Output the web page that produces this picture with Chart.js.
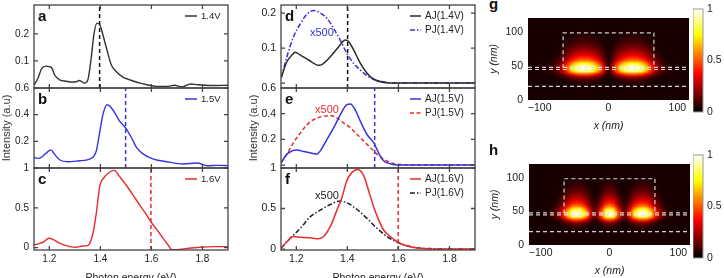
<!DOCTYPE html>
<html>
<head>
<meta charset="utf-8">
<script src="https://cdn.jsdelivr.net/npm/chart.js@4.4.0/dist/chart.umd.min.js"></script>
<style>
	body { margin: 0; width: 724px; height: 278px; overflow: hidden; position: relative; background: #fff; }
	canvas { position: absolute; }
	.tag { position: absolute; font: bold 15px "Liberation Sans", Arial, sans-serif; line-height: 15px; color: #111; }
</style>
</head>
<body>
<canvas id="pa"></canvas><canvas id="pb"></canvas><canvas id="pc"></canvas>
<canvas id="pd"></canvas><canvas id="pe"></canvas><canvas id="pf"></canvas>
<canvas id="pg"></canvas><canvas id="ph"></canvas>
<canvas id="cbg"></canvas><canvas id="cbh"></canvas>
<div class="tag" style="left:489px;top:-4px">g</div>
<div class="tag" style="left:489px;top:142px">h</div>
<script>
// ---- spectra, left column (measured) ----
const energyTicks = [1.2, 1.4, 1.6, 1.8];

const xA = [1.14, 1.155, 1.17, 1.187, 1.2, 1.21, 1.22, 1.24, 1.266, 1.29, 1.305, 1.318, 1.338, 1.351, 1.364, 1.375, 1.387, 1.397, 1.409, 1.424, 1.443, 1.463, 1.488, 1.51, 1.528, 1.555, 1.582, 1.62, 1.66, 1.69, 1.72, 1.753, 1.78, 1.81, 1.85, 1.9];
const yA = [0.011, 0.035, 0.072, 0.081, 0.079, 0.074, 0.05, 0.03, 0.025, 0.022, 0.023, 0.028, 0.018, 0.03, 0.11, 0.2, 0.24, 0.235, 0.2, 0.147, 0.085, 0.06, 0.04, 0.032, 0.026, 0.018, 0.012, 0.006, 0.006, 0.01, 0.004, 0.015, 0.012, 0.01, 0.009, 0.01];

const xB = [1.14, 1.16, 1.175, 1.187, 1.207, 1.22, 1.24, 1.272, 1.318, 1.358, 1.384, 1.397, 1.41, 1.426, 1.437, 1.457, 1.476, 1.499, 1.522, 1.542, 1.568, 1.608, 1.66, 1.726, 1.779, 1.818, 1.86, 1.9];
const yB = [0.079, 0.072, 0.09, 0.111, 0.136, 0.104, 0.062, 0.047, 0.054, 0.067, 0.128, 0.264, 0.4, 0.474, 0.464, 0.412, 0.35, 0.301, 0.227, 0.153, 0.104, 0.067, 0.047, 0.03, 0.037, 0.017, 0.02, 0.017];

const xC = [1.14, 1.16, 1.18, 1.197, 1.21, 1.24, 1.28, 1.305, 1.33, 1.351, 1.371, 1.384, 1.397, 1.417, 1.437, 1.454, 1.476, 1.502, 1.528, 1.555, 1.581, 1.598, 1.62, 1.646, 1.666, 1.68, 1.7, 1.74, 1.79, 1.845, 1.9];
const yC = [0.034, 0.05, 0.075, 0.117, 0.11, 0.055, 0.013, 0.004, 0.02, 0.025, 0.18, 0.43, 0.76, 0.89, 0.95, 0.97, 0.89, 0.78, 0.66, 0.53, 0.41, 0.325, 0.23, 0.117, 0.03, -0.025, -0.025, -0.01, 0.005, 0.012, 0.012];

// ---- spectra, middle column (simulated, AJ and PJ x500) ----
const xAJ14 = [1.141, 1.163, 1.183, 1.196, 1.216, 1.248, 1.287, 1.3, 1.333, 1.366, 1.392, 1.405, 1.425, 1.451, 1.477, 1.503, 1.542, 1.6, 1.7, 1.9];
const yAJ14 = [0.016, 0.061, 0.08, 0.088, 0.08, 0.066, 0.051, 0.053, 0.075, 0.104, 0.123, 0.119, 0.094, 0.056, 0.028, 0.011, 0.002, 0, 0, 0];
const xPJ14 = [1.141, 1.163, 1.189, 1.216, 1.242, 1.268, 1.294, 1.32, 1.346, 1.372, 1.398, 1.425, 1.451, 1.477, 1.503, 1.542, 1.58, 1.7, 1.9];
const yPJ14 = [0.016, 0.075, 0.132, 0.17, 0.197, 0.207, 0.2, 0.185, 0.156, 0.123, 0.085, 0.056, 0.037, 0.021, 0.011, 0.004, 0, 0, 0];

const xAJ15 = [1.141, 1.163, 1.183, 1.202, 1.229, 1.261, 1.281, 1.294, 1.32, 1.346, 1.372, 1.398, 1.412, 1.431, 1.451, 1.477, 1.503, 1.523, 1.542, 1.568, 1.6, 1.7, 1.9];
const yAJ15 = [0.02, 0.085, 0.11, 0.118, 0.105, 0.092, 0.085, 0.11, 0.2, 0.29, 0.39, 0.47, 0.475, 0.43, 0.34, 0.238, 0.175, 0.092, 0.033, 0.01, 0, 0, 0];
const xPJ15 = [1.141, 1.163, 1.189, 1.216, 1.242, 1.268, 1.294, 1.333, 1.359, 1.385, 1.412, 1.438, 1.464, 1.49, 1.516, 1.542, 1.568, 1.6, 1.7, 1.9];
const yPJ15 = [0.02, 0.085, 0.175, 0.25, 0.315, 0.354, 0.375, 0.385, 0.367, 0.328, 0.29, 0.238, 0.187, 0.136, 0.085, 0.046, 0.02, 0.005, 0, 0];

const xAJ16 = [1.141, 1.163, 1.189, 1.216, 1.255, 1.287, 1.307, 1.333, 1.359, 1.379, 1.398, 1.418, 1.44, 1.464, 1.483, 1.503, 1.523, 1.542, 1.568, 1.594, 1.62, 1.66, 1.71, 1.8, 1.9];
const yAJ16 = [0.012, 0.09, 0.154, 0.146, 0.138, 0.126, 0.154, 0.276, 0.48, 0.64, 0.845, 0.946, 0.98, 0.906, 0.723, 0.52, 0.357, 0.235, 0.154, 0.093, 0.053, 0.02, 0.004, 0, 0];
const xPJ16 = [1.141, 1.176, 1.216, 1.255, 1.294, 1.333, 1.372, 1.398, 1.438, 1.477, 1.516, 1.555, 1.594, 1.633, 1.672, 1.725, 1.8, 1.9];
const yPJ16 = [0.012, 0.134, 0.256, 0.4, 0.48, 0.55, 0.593, 0.57, 0.488, 0.378, 0.256, 0.154, 0.085, 0.04, 0.016, 0.005, 0, 0];

// ---- near-field maps (column and row profiles) ----
const mapX = [-114, -108, -102, -96, -90, -84, -78, -72, -66, -60, -54, -48, -42, -36, -30, -24, -18, -12, -6, 0, 6, 12, 18, 24, 30, 36, 42, 48, 54, 60, 66, 72, 78, 84, 90, 96, 102, 108, 114];
const mapY = [2, 6, 10, 14, 18, 22, 26, 30, 34, 38, 42, 46, 50, 54, 58, 62, 66, 70, 74, 78, 82, 86, 90, 94, 98, 102, 106, 110, 114, 118];
const colG = [0.03, 0.03, 0.04, 0.05, 0.06, 0.08, 0.12, 0.2, 0.34, 0.52, 0.72, 0.88, 0.97, 1.0, 0.98, 0.9, 0.75, 0.55, 0.3, 0.06, 0.3, 0.55, 0.75, 0.9, 0.98, 1.0, 0.97, 0.88, 0.72, 0.52, 0.34, 0.2, 0.12, 0.08, 0.06, 0.05, 0.04, 0.03, 0.03];
const colH = [0.03, 0.03, 0.03, 0.04, 0.05, 0.08, 0.14, 0.26, 0.46, 0.72, 0.94, 1.0, 0.94, 0.75, 0.45, 0.18, 0.22, 0.52, 0.88, 1.0, 0.88, 0.52, 0.22, 0.18, 0.45, 0.75, 0.94, 1.0, 0.94, 0.72, 0.46, 0.26, 0.14, 0.08, 0.05, 0.04, 0.03, 0.03, 0.03];
const rowProfile = [0.04, 0.04, 0.04, 0.04, 0.04, 0.05, 0.07, 0.12, 0.24, 0.5, 0.85, 1.0, 0.95, 0.78, 0.58, 0.45, 0.36, 0.29, 0.23, 0.18, 0.14, 0.11, 0.09, 0.07, 0.05, 0.04, 0.04, 0.04, 0.04, 0.04];
const boxX = [-66, -66, 66, 66];
const boxY = [47, 99, 99, 47];
const layerY = [48, 45, 20];
const nmTicks = [-100, 0, 100];
const heightTicks = [0, 50, 100];
const cbarTicks = [0, 0.5, 1];

const FONT = '"Liberation Sans", Arial, Helvetica, sans-serif';

function hot(v) {
	v = Math.max(0.035, Math.min(1, v));
	const r = Math.min(1, v / 0.375);
	const g = Math.min(1, Math.max(0, (v - 0.375) / 0.375));
	const b = Math.max(0, (v - 0.75) / 0.25);
	return [Math.round(r * 255), Math.round(g * 255), Math.round(b * 255)];
}

function line(xs, ys, color, dash, width, straight) {
	return {
		data: xs.map((x, i) => ({ x: x, y: ys[i] })),
		borderColor: color,
		borderWidth: width || 1.4,
		borderDash: dash || [],
		pointRadius: 0,
		tension: 0,
		cubicInterpolationMode: straight ? 'default' : 'monotone',
		fill: false,
	};
}

function vline(x, lo, hi, color) {
	return line([x, x], [lo, hi], color, [4, 3], 1.5, true);
}

const deco = {
	id: 'deco',
	afterDatasetsDraw(chart, args, o) {
		const { ctx, chartArea: a, scales } = chart;
		ctx.save();
		if (o.frame) {
			ctx.strokeStyle = '#444';
			ctx.lineWidth = 1.3;
			ctx.setLineDash([]);
			ctx.strokeRect(a.left, a.top, a.right - a.left, a.bottom - a.top);
			ctx.beginPath();
			o.xTicks.forEach(v => {
				const px = scales.x.getPixelForValue(v);
				ctx.moveTo(px, a.bottom); ctx.lineTo(px, a.bottom - 4);
				ctx.moveTo(px, a.top); ctx.lineTo(px, a.top + 4);
			});
			o.yTicks.forEach(v => {
				const py = scales.y.getPixelForValue(v);
				ctx.moveTo(a.left, py); ctx.lineTo(a.left + 4, py);
				ctx.moveTo(a.right, py); ctx.lineTo(a.right - 4, py);
			});
			ctx.stroke();
		}
		if (o.letter) {
			ctx.fillStyle = '#111';
			ctx.font = 'bold 15px ' + FONT;
			ctx.textBaseline = 'alphabetic';
			ctx.fillText(o.letter, a.left + 4, a.top + 16);
		}
		(o.legend || []).forEach((it, k) => {
			const ds = chart.data.datasets[it.ds];
			const y = a.top + 11 + k * 14;
			const x0 = a.right - o.legendX;
			ctx.strokeStyle = ds.borderColor;
			ctx.lineWidth = 1.5;
			ctx.setLineDash(ds.borderDash || []);
			ctx.beginPath(); ctx.moveTo(x0, y); ctx.lineTo(x0 + o.sampleW, y); ctx.stroke();
			ctx.setLineDash([]);
			ctx.fillStyle = '#222';
			ctx.font = o.legendFont + 'px ' + FONT;
			ctx.textBaseline = 'middle';
			ctx.textAlign = 'left';
			ctx.fillText(it.text, x0 + o.sampleW + 4, y);
		});
		(o.notes || []).forEach(n => {
			ctx.fillStyle = n.color;
			ctx.font = '11px ' + FONT;
			ctx.textAlign = 'center';
			ctx.textBaseline = 'middle';
			ctx.fillText(n.text, scales.x.getPixelForValue(n.x), scales.y.getPixelForValue(n.y));
		});
		ctx.restore();
	}
};

const heat = {
	id: 'heat',
	beforeDatasetsDraw(chart, args, o) {
		if (!o.col) return;
		const { ctx, chartArea: a, scales } = chart;
		const off = document.createElement('canvas');
		off.width = o.xs.length; off.height = o.ys.length;
		const octx = off.getContext('2d');
		const img = octx.createImageData(off.width, off.height);
		o.ys.forEach((yv, j) => {
			o.xs.forEach((xv, i) => {
				const c = hot(o.col[i] * o.row[j]);
				const k = ((off.height - 1 - j) * off.width + i) * 4;
				img.data[k] = c[0]; img.data[k + 1] = c[1]; img.data[k + 2] = c[2]; img.data[k + 3] = 255;
			});
		});
		octx.putImageData(img, 0, 0);
		const dx = (o.xs[1] - o.xs[0]) / 2, dy = (o.ys[1] - o.ys[0]) / 2;
		const x0 = scales.x.getPixelForValue(o.xs[0] - dx);
		const x1 = scales.x.getPixelForValue(o.xs[o.xs.length - 1] + dx);
		const y0 = scales.y.getPixelForValue(o.ys[o.ys.length - 1] + dy);
		const y1 = scales.y.getPixelForValue(o.ys[0] - dy);
		ctx.save();
		ctx.beginPath(); ctx.rect(a.left, a.top, a.right - a.left, a.bottom - a.top); ctx.clip();
		ctx.fillStyle = '#0d0000';
		ctx.fillRect(a.left, a.top, a.right - a.left, a.bottom - a.top);
		ctx.imageSmoothingEnabled = true;
		ctx.drawImage(off, x0, y0, x1 - x0, y1 - y0);
		ctx.restore();
	}
};

const cbar = {
	id: 'cbar',
	beforeDatasetsDraw(chart, args, o) {
		if (!o.on) return;
		const { ctx, chartArea: a, scales } = chart;
		const g = ctx.createLinearGradient(0, scales.y.getPixelForValue(0), 0, scales.y.getPixelForValue(1));
		g.addColorStop(0, '#000'); g.addColorStop(0.375, '#f00'); g.addColorStop(0.75, '#ff0'); g.addColorStop(1, '#fff');
		ctx.save();
		ctx.fillStyle = g;
		ctx.fillRect(a.left, a.top, a.right - a.left, a.bottom - a.top);
		ctx.strokeStyle = '#999'; ctx.lineWidth = 1;
		ctx.strokeRect(a.left, a.top, a.right - a.left, a.bottom - a.top);
		ctx.restore();
	}
};

Chart.register(deco, heat, cbar);

function place(id, box, m) {
	const cv = document.getElementById(id);
	cv.width = m.l + box.w + m.r;
	cv.height = m.t + box.h + m.b;
	cv.style.left = (box.l - m.l) + 'px';
	cv.style.top = (box.t - m.t) + 'px';
	return cv;
}

function fixTicks(list) {
	return s => { s.ticks = list.map(v => ({ value: v })); };
}

function spectrum(id, box, p) {
	const showX = !!p.xTitle;
	const axisH = showX ? 34 : 0;
	const cv = place(id, box, { l: 34, t: 8, r: 6, b: showX ? axisH : 6 });
	new Chart(cv, {
		type: 'line',
		data: { datasets: p.datasets },
		options: {
			responsive: false, animation: false, devicePixelRatio: 1,
			layout: { padding: { left: 0, top: 8, right: 6, bottom: showX ? 0 : 6 } },
			plugins: {
				legend: { display: false }, tooltip: { enabled: false },
				deco: { frame: true, xTicks: energyTicks, yTicks: p.yTicks, letter: p.letter, legend: p.legend, legendX: p.legendX, sampleW: p.sampleW, legendFont: p.legendFont, notes: p.notes },
			},
			scales: {
				x: {
					type: 'linear', min: 1.14, max: 1.9, display: showX,
					grid: { display: false, drawTicks: false }, border: { display: false },
					afterBuildTicks: fixTicks(energyTicks),
					afterFit: s => { s.height = axisH; s.paddingLeft = 0; s.paddingRight = 0; },
					ticks: { font: { family: FONT, size: p.tickSize }, color: '#222', padding: 3, callback: v => String(v) },
					title: { display: showX, text: p.xTitle, font: { family: FONT, size: 10.5 }, color: '#222', padding: 0 },
				},
				y: {
					type: 'linear', min: p.yMin, max: p.yMax,
					grid: { display: false, drawTicks: false }, border: { display: false },
					afterBuildTicks: fixTicks(p.yLabels),
					afterFit: s => { s.width = 34; s.paddingTop = 0; s.paddingBottom = 0; },
					ticks: { font: { family: FONT, size: p.tickSize }, color: '#222', padding: 5, callback: v => String(v) },
					title: { display: !!p.yTitle, text: p.yTitle, font: { family: FONT, size: 11 }, color: '#333', padding: 0 },
				},
			},
		},
	});
}

const black = '#2b2b2b', blue = '#3434de', red = '#ea2b2e';

spectrum('pa', { l: 34, t: 5, w: 194, h: 83 }, {
	yMin: 0, yMax: 0.307, yTicks: [0, 0.1, 0.2], yLabels: [0.1, 0.2], letter: 'a', tickSize: 10,
	legend: [{ ds: 0, text: '1.4V' }], legendX: 43, sampleW: 12, legendFont: 9.5,
	datasets: [line(xA, yA, '#333', [], 1.4), vline(1.397, 0, 0.307, '#111')],
});
spectrum('pb', { l: 34, t: 88, w: 194, h: 80 }, {
	yMin: 0, yMax: 0.6, yTicks: [0, 0.2, 0.4], yLabels: [0.2, 0.4, 0.6], letter: 'b', tickSize: 10,
	yTitle: 'Intensity (a.u)',
	legend: [{ ds: 0, text: '1.5V' }], legendX: 43, sampleW: 12, legendFont: 9.5,
	datasets: [line(xB, yB, blue, [], 1.4), vline(1.499, 0, 0.6, blue)],
});
spectrum('pc', { l: 34, t: 168, w: 194, h: 82 }, {
	yMin: -0.03, yMax: 1, yTicks: [0, 0.5, 1], yLabels: [0, 0.5, 1], letter: 'c', tickSize: 10,
	xTitle: 'Photon energy (eV)',
	legend: [{ ds: 0, text: '1.6V' }], legendX: 43, sampleW: 12, legendFont: 9.5,
	datasets: [line(xC, yC, red, [], 1.4), vline(1.598, -0.03, 1, red)],
});

spectrum('pd', { l: 281, t: 5, w: 194, h: 83 }, {
	yMin: -0.014, yMax: 0.223, yTicks: [0, 0.1, 0.2], yLabels: [0.1, 0.2], letter: 'd', tickSize: 10.5,
	legend: [{ ds: 0, text: 'AJ(1.4V)' }, { ds: 1, text: 'PJ(1.4V)' }], legendX: 65, sampleW: 11, legendFont: 10,
	notes: [{ x: 1.3, y: 0.143, text: 'x500', color: blue }],
	datasets: [line(xAJ14, yAJ14, black, [], 1.5), line(xPJ14, yPJ14, blue, [5, 2, 1.5, 2], 1.5), vline(1.401, -0.014, 0.223, '#111')],
});
spectrum('pe', { l: 281, t: 88, w: 194, h: 80 }, {
	yMin: -0.023, yMax: 0.6, yTicks: [0, 0.2, 0.4], yLabels: [0.2, 0.4, 0.6], letter: 'e', tickSize: 10.5,
	yTitle: 'Intensity (a.u)',
	legend: [{ ds: 0, text: 'AJ(1.5V)' }, { ds: 1, text: 'PJ(1.5V)' }], legendX: 65, sampleW: 11, legendFont: 10,
	notes: [{ x: 1.32, y: 0.43, text: 'x500', color: red }],
	datasets: [line(xAJ15, yAJ15, blue, [], 1.5), line(xPJ15, yPJ15, red, [4, 2.5], 1.5), vline(1.507, -0.023, 0.6, blue)],
});
spectrum('pf', { l: 281, t: 168, w: 194, h: 82 }, {
	yMin: -0.012, yMax: 1, yTicks: [0, 0.5, 1], yLabels: [0, 0.5, 1], letter: 'f', tickSize: 10.5,
	xTitle: 'Photon energy (eV)',
	legend: [{ ds: 0, text: 'AJ(1.6V)' }, { ds: 1, text: 'PJ(1.6V)' }], legendX: 65, sampleW: 11, legendFont: 10,
	notes: [{ x: 1.32, y: 0.66, text: 'x500', color: '#222' }],
	datasets: [line(xAJ16, yAJ16, red, [], 1.5), line(xPJ16, yPJ16, '#222', [5, 2, 1.5, 2], 1.5), vline(1.599, -0.012, 1, red)],
});

function nearField(id, box, col) {
	const cv = place(id, box, { l: 43, t: 6, r: 4, b: 32 });
	const dash = { borderColor: 'rgba(232,232,232,0.9)', borderWidth: 1.2, borderDash: [4, 3] };
	const sets = [line(boxX, boxY, dash.borderColor, dash.borderDash, dash.borderWidth, true)];
	layerY.forEach(y => sets.push(line([-117, 117], [y, y], dash.borderColor, dash.borderDash, dash.borderWidth, true)));
	new Chart(cv, {
		type: 'line',
		data: { datasets: sets },
		options: {
			responsive: false, animation: false, devicePixelRatio: 1,
			layout: { padding: { left: 0, top: 6, right: 4, bottom: 0 } },
			plugins: {
				legend: { display: false }, tooltip: { enabled: false },
				heat: { xs: mapX, ys: mapY, col: col, row: rowProfile },
			},
			scales: {
				x: {
					type: 'linear', min: -117, max: 117,
					grid: { display: false, drawTicks: false }, border: { display: false },
					afterBuildTicks: fixTicks(nmTicks),
					afterFit: s => { s.height = 32; s.paddingLeft = 0; s.paddingRight = 0; },
					ticks: { font: { family: FONT, size: 10.5 }, color: '#222', padding: 2, callback: v => String(v).replace('-', '\u2212') },
					title: { display: true, text: 'x (nm)', font: { family: FONT, size: 10.5, style: 'italic' }, color: '#222', padding: 0 },
				},
				y: {
					type: 'linear', min: 0, max: 121,
					grid: { display: false, drawTicks: false }, border: { display: false },
					afterBuildTicks: fixTicks(heightTicks),
					afterFit: s => { s.width = 43; s.paddingTop = 0; s.paddingBottom = 0; },
					ticks: { font: { family: FONT, size: 10.5 }, color: '#222', padding: 5, callback: v => String(v) },
					title: { display: true, text: 'y (nm)', font: { family: FONT, size: 10.5, style: 'italic' }, color: '#222', padding: { top: 3 } },
				},
			},
		},
	});
}

nearField('pg', { l: 528, t: 18, w: 161, h: 82 }, colG);
nearField('ph', { l: 529, t: 164, w: 161, h: 81 }, colH);

function colorBar(id, box) {
	const cv = place(id, box, { l: 0, t: 8, r: 25, b: 8 });
	new Chart(cv, {
		type: 'scatter',
		data: { datasets: [] },
		options: {
			responsive: false, animation: false, devicePixelRatio: 1,
			layout: { padding: { left: 0, top: 8, right: 0, bottom: 8 } },
			plugins: { legend: { display: false }, tooltip: { enabled: false }, cbar: { on: true } },
			scales: {
				x: { type: 'linear', min: 0, max: 1, display: false },
				y: {
					type: 'linear', position: 'right', min: 0, max: 1,
					grid: { display: false, drawTicks: false }, border: { display: false },
					afterBuildTicks: fixTicks(cbarTicks),
					afterFit: s => { s.width = 25; s.paddingTop = 0; s.paddingBottom = 0; },
					ticks: { font: { family: FONT, size: 10.5 }, color: '#222', padding: 4, callback: v => String(v) },
				},
			},
		},
	});
}

colorBar('cbg', { l: 693, t: 9, w: 10, h: 103 });
colorBar('cbh', { l: 693, t: 155, w: 10, h: 103 });
</script>
</body>
</html>
